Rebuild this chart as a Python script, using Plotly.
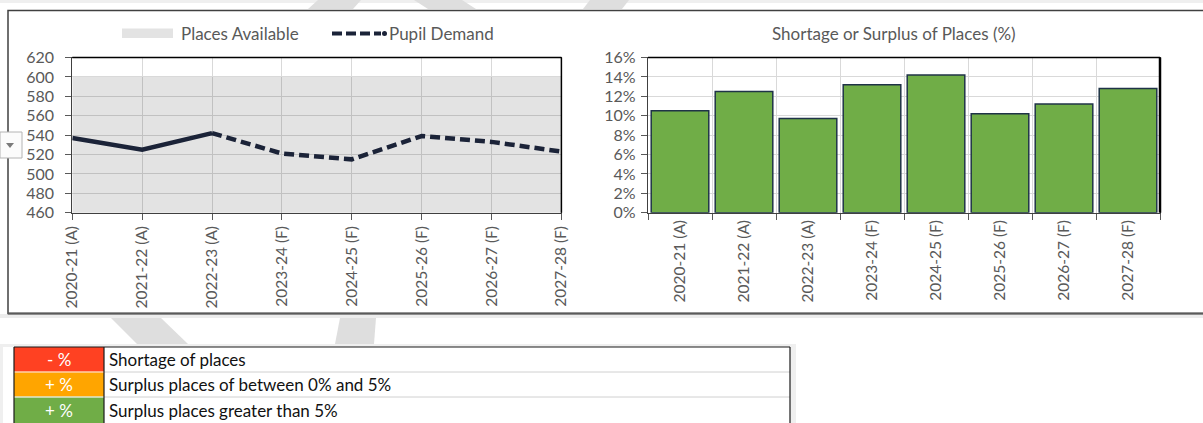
import plotly.graph_objects as go

# ---------------- data ----------------
categories = ["2020-21 (A)", "2021-22 (A)", "2022-23 (A)", "2023-24 (F)",
              "2024-25 (F)", "2025-26 (F)", "2026-27 (F)", "2027-28 (F)"]
places_available = [600, 600, 600, 600, 600, 600, 600, 600]
pupil_demand = [537, 525, 542, 521, 515, 539, 533, 523]
actual_count = 3  # first three years are actuals, rest forecasts
surplus_pct = [10.5, 12.5, 9.7, 13.2, 14.2, 10.2, 11.2, 12.8]

key_symbols = ["- %", "+ %", "+ %"]
key_labels = ["Shortage of places", "Surplus places of between 0% and 5%",
              "Surplus places greater than 5%"]
key_colors = ["#FF4122", "#FFA500", "#70AD47"]

# ---------------- helpers (pixel -> paper) ----------------
W, H = 1203, 423
def px(x): return x / W
def py(y): return 1 - y / H
def poly(pts):
    return "M " + " L ".join(f"{px(x):.5f},{py(y):.5f}" for x, y in pts) + " Z"

FONT = "Lato"
TXT = "#595959"
NAVY = "#1b2338"
GRID = "#d9d9d9"

idx = list(range(len(categories)))

fig = go.Figure()

# Places available (area)
fig.add_trace(go.Scatter(x=idx, y=places_available, name="Places Available",
                         mode="none", fill="tozeroy", fillcolor="rgba(0,0,0,0.11)",
                         xaxis="x", yaxis="y", showlegend=False, hoverinfo="skip"))
# Pupil demand actual (solid) + forecast (dashed)
fig.add_trace(go.Scatter(x=idx[:actual_count], y=pupil_demand[:actual_count],
                         name="Pupil Demand", mode="lines",
                         line=dict(color=NAVY, width=4.5),
                         xaxis="x", yaxis="y", showlegend=False))
fig.add_trace(go.Scatter(x=idx[actual_count - 1:], y=pupil_demand[actual_count - 1:],
                         name="Pupil Demand", mode="lines",
                         line=dict(color=NAVY, width=4.5, dash="10px,5px"),
                         xaxis="x", yaxis="y", showlegend=False))
# Surplus bars
fig.add_trace(go.Bar(x=categories, y=[v / 100 for v in surplus_pct],
                     marker=dict(color="#70AD47", line=dict(color="#1f3347", width=1.5)),
                     xaxis="x2", yaxis="y2", showlegend=False))

ytickfont = dict(family=FONT, size=16, color=TXT)
xtickfont = dict(family=FONT, size=15.5, color=TXT)
ydom = [py(212.7), py(57.5)]

fig.update_layout(
    width=W, height=H, autosize=False,
    margin=dict(l=0, r=0, t=0, b=0, pad=0),
    paper_bgcolor="white", plot_bgcolor="white",
    bargap=0.1,
    xaxis=dict(domain=[px(72.3), px(561.4)], range=[0, 7], anchor="y",
               tickmode="array", tickvals=idx, ticktext=categories, tickangle=-90,
               ticks="outside", ticklen=6, tickcolor=TXT, tickfont=xtickfont,
               showgrid=True, gridcolor=GRID, zeroline=False, automargin=False,
               showline=True, linecolor="#404040", linewidth=1.2, mirror=True),
    yaxis=dict(domain=ydom, range=[460, 620], dtick=20, anchor="x",
               ticks="outside", ticklen=6, tickcolor=TXT, tickfont=ytickfont,
               ticklabelstandoff=8,
               showgrid=True, gridcolor=GRID, zeroline=False, automargin=False,
               showline=True, linecolor="#404040", linewidth=1.2, mirror=True),
    xaxis2=dict(domain=[px(648), px(1160)], anchor="y2", type="category",
                tickson="boundaries", tickangle=-90,
                ticks="outside", ticklen=6, tickcolor=TXT, tickfont=xtickfont,
                showgrid=True, gridcolor=GRID, zeroline=False, automargin=False,
                showline=True, linecolor="#404040", linewidth=1.2, mirror=True),
    yaxis2=dict(domain=ydom, range=[0, 0.16], dtick=0.02, tickformat=".0%", anchor="x2",
                ticks="outside", ticklen=6, tickcolor=TXT, tickfont=ytickfont,
                ticklabelstandoff=2,
                showgrid=True, gridcolor=GRID, zeroline=False, automargin=False,
                showline=True, linecolor="#404040", linewidth=1.2, mirror=True),
)

shapes = []
# background bands / shadows
shapes.append(dict(type="rect", xref="paper", yref="paper", layer="below",
                   x0=0, x1=1, y0=py(3), y1=1, fillcolor="#efefef", line_width=0))
shapes.append(dict(type="rect", xref="paper", yref="paper", layer="below",
                   x0=0, x1=1, y0=py(318), y1=py(314), fillcolor="#ececec", line_width=0))
shapes.append(dict(type="rect", xref="paper", yref="paper", layer="below",
                   x0=0, x1=px(796), y0=0, y1=py(344), fillcolor="#efefef", line_width=0))
shapes.append(dict(type="rect", xref="paper", yref="paper", layer="below",
                   x0=px(3), x1=px(14), y0=0, y1=py(347), fillcolor="white", line_width=0))
# watermark fragments
for pts in [
    [(111, 318), (161, 318), (188, 344), (137, 344)],
    [(340, 318), (376, 318), (374, 344), (335, 344)],
    [(318, 0), (361, 0), (353, 9), (308, 9)],
    [(414, 0), (462, 0), (476, 9), (428, 9)],
    [(590, 0), (629, 0), (622, 9), (583, 9)],
]:
    shapes.append(dict(type="path", xref="paper", yref="paper", layer="below",
                       path=poly(pts), fillcolor="#dedede", line_width=0))
# outer chart frame
shapes.append(dict(type="rect", xref="paper", yref="paper", layer="below",
                   x0=px(8), x1=px(1215), y0=py(313.5), y1=py(10.5),
                   fillcolor="white", line=dict(color="#404040", width=1.5)))
shapes.append(dict(type="line", xref="paper", yref="paper",
                   x0=px(8), x1=px(1215), y0=py(313.5), y1=py(313.5),
                   line=dict(color="#5a5a5a", width=2)))
# heavier top/right plot borders
shapes.append(dict(type="line", xref="x2 domain", yref="y2 domain",
                   x0=1, x1=1, y0=0, y1=1, line=dict(color="black", width=2.5)))
shapes.append(dict(type="line", xref="x2 domain", yref="y2 domain",
                   x0=0, x1=1, y0=1, y1=1, line=dict(color="black", width=1.5)))
shapes.append(dict(type="line", xref="x domain", yref="y domain",
                   x0=1, x1=1, y0=0, y1=1, line=dict(color="black", width=1.5)))
shapes.append(dict(type="line", xref="x domain", yref="y domain",
                   x0=0, x1=1, y0=1, y1=1, line=dict(color="black", width=1.5)))
# legend swatches
shapes.append(dict(type="rect", xref="paper", yref="paper",
                   x0=px(122), x1=px(173), y0=py(38), y1=py(28.5),
                   fillcolor="#e3e3e3", line_width=0))
shapes.append(dict(type="line", xref="paper", yref="paper",
                   x0=px(332), x1=px(381), y0=py(33.5), y1=py(33.5),
                   line=dict(color=NAVY, width=4, dash="10px,4px")))
shapes.append(dict(type="circle", xref="paper", yref="paper",
                   x0=px(382), x1=px(387), y0=py(36), y1=py(31),
                   fillcolor=NAVY, line_width=0))
# dropdown button (sheet filter artifact)
shapes.append(dict(type="rect", xref="paper", yref="paper",
                   x0=px(0), x1=px(22), y0=py(158), y1=py(132),
                   fillcolor="#fbfbfb", line=dict(color="#b4b4b4", width=1)))
shapes.append(dict(type="path", xref="paper", yref="paper",
                   path=poly([(6, 143), (14, 143), (10, 148)]),
                   fillcolor="#7a7a7a", line_width=0))

# key table
row_y = [347, 372, 397, 433]
for i in range(len(key_labels)):
    y0, y1 = row_y[i], row_y[i + 1]
    shapes.append(dict(type="rect", xref="paper", yref="paper",
                       x0=px(14), x1=px(104), y0=py(y1), y1=py(y0),
                       fillcolor=key_colors[i], line_width=0))
    shapes.append(dict(type="rect", xref="paper", yref="paper",
                       x0=px(104), x1=px(790), y0=py(y1), y1=py(y0),
                       fillcolor="white", line_width=0))
for y, col in [(372, "#ffd2a8"), (397, "#dfe8d0")]:
    shapes.append(dict(type="line", xref="paper", yref="paper",
                       x0=px(14), x1=px(104), y0=py(y), y1=py(y),
                       line=dict(color=col, width=1.5)))
    shapes.append(dict(type="line", xref="paper", yref="paper",
                       x0=px(104), x1=px(790), y0=py(y), y1=py(y),
                       line=dict(color="#d0d0d0", width=1)))
for (x0, y0, x1, y1) in [(14, 347, 790, 347), (14, 347, 14, 433),
                         (104, 347, 104, 433), (790, 347, 790, 433)]:
    shapes.append(dict(type="line", xref="paper", yref="paper",
                       x0=px(x0), x1=px(x1), y0=py(y0), y1=py(y1),
                       line=dict(color="#1a1a1a", width=1.2)))

annotations = []
annotations.append(dict(xref="paper", yref="paper", x=px(179), y=py(33.5),
                        text="Places Available", showarrow=False, xanchor="left",
                        yanchor="middle", font=dict(family=FONT, size=17, color=TXT)))
annotations.append(dict(xref="paper", yref="paper", x=px(387), y=py(33.5),
                        text="Pupil Demand", showarrow=False, xanchor="left",
                        yanchor="middle", font=dict(family=FONT, size=17, color=TXT)))
annotations.append(dict(xref="paper", yref="paper", x=px(894), y=py(33.5),
                        text="Shortage or Surplus of Places (%)", showarrow=False,
                        xanchor="center", yanchor="middle",
                        font=dict(family=FONT, size=17, color=TXT)))
centers = [359.5, 384.5, 410]
for i in range(len(key_labels)):
    annotations.append(dict(xref="paper", yref="paper", x=px(59), y=py(centers[i]),
                            text=key_symbols[i], showarrow=False, xanchor="center",
                            yanchor="middle", font=dict(family=FONT, size=17, color="white")))
    annotations.append(dict(xref="paper", yref="paper", x=px(107), y=py(centers[i]),
                            text=key_labels[i], showarrow=False, xanchor="left",
                            yanchor="middle", font=dict(family=FONT, size=17, color="#111111")))

fig.update_layout(shapes=shapes, annotations=annotations)
fig.write_html(
    "out.html",
    config={"displayModeBar": False},
    post_script="document.body.style.margin='0';document.body.style.overflow='hidden';",
)
